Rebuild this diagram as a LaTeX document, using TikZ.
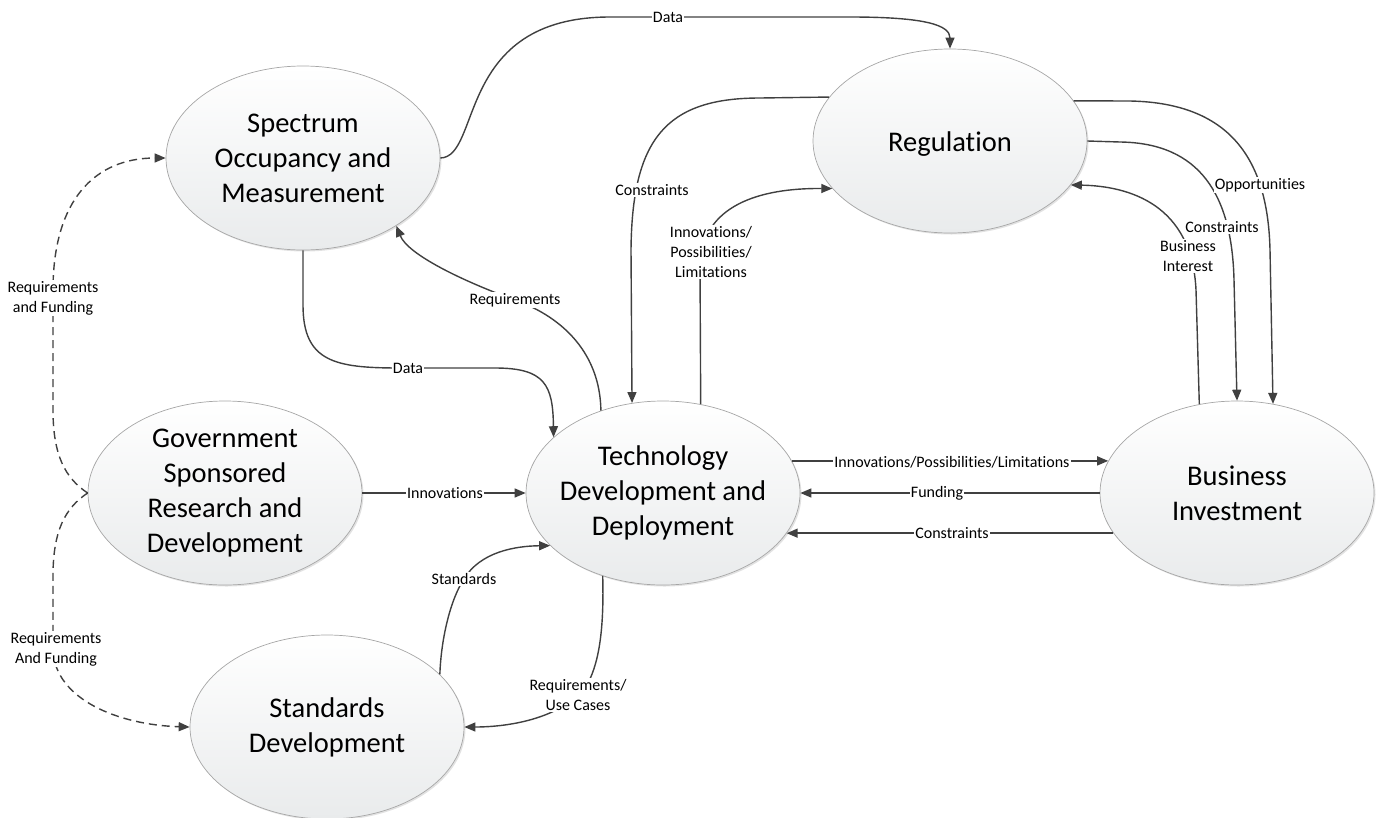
\documentclass[tikz,border=0pt]{standalone}
\usepackage{fontspec}
\setmainfont{Carlito}[Ligatures=NoCommon]
\usetikzlibrary{arrows.meta,shapes.geometric,shadows}
\definecolor{linec}{HTML}{404040}
\definecolor{ellborder}{HTML}{A6A6A6}
\definecolor{ellbot}{HTML}{E9EBEC}
\begin{document}
\begin{tikzpicture}[x=1pt,y=-1pt,
  ell/.style={ellipse, draw=ellborder, line width=0.7pt, top color=white, bottom color=ellbot,
    minimum width=274pt, minimum height=184pt, inner sep=0pt,
    drop shadow={shadow xshift=1.5pt, shadow yshift=-1.5pt, opacity=0.25, fill=black!45}},
  txt/.style={align=center, font=\fontsize{28.5}{35}\selectfont, text=black, inner sep=0pt},
  lbl/.style={fill=white, inner sep=1pt, align=center, font=\fontsize{16}{20}\selectfont, text=black},
  conn/.style={draw=linec, line width=1.4pt, -{Triangle[length=11pt,width=9pt]}},
  dconn/.style={conn, dash pattern=on 8pt off 5pt}]
\useasboundingbox (0,0) rectangle (1380,817);

% ellipses
\node[ell, label={[txt]center:Spectrum\\Occupancy and\\Measurement}] (S) at (303,158) {};
\node[ell, label={[txt,yshift=-3pt]center:Regulation}] (R) at (950,141) {};
\node[ell, label={[txt]center:Government\\Sponsored\\Research and\\Development}] (G) at (225,493) {};
\node[ell, label={[txt]center:Technology\\Development and\\Deployment}] (T) at (663,493) {};
\node[ell, label={[txt]center:Business\\Investment}] (B) at (1237,493) {};
\node[ell, label={[txt]center:Standards\\Development}] (SD) at (327,727) {};

% connectors
\draw[conn] (S.east) .. controls (482,157) and (455,17) .. (610,17) -- (850,17) .. controls (925,17) and (950,25) .. (R.north);
\draw[conn] (S.south) -- (303,305) .. controls (303,362) and (335,368) .. (400,368) -- (495,368) .. controls (545,368) and (553,385) .. (T.153);
\draw[conn] (T.127) .. controls (600,355) and (565,318) .. (515,300) .. controls (465,282) and (408,255) .. (S.324);
\draw[conn] (R.160) -- (760,98) .. controls (665,98) and (632,140) .. (631,250) -- (T.109);
\draw[conn] (T.67) -- (700,265) .. controls (702,205) and (760,188) .. (R.202);
\draw[conn] (R.18) -- (1130,101) .. controls (1235,103) and (1268,165) .. (1270,250) -- (B.68);
\draw[conn] (R.east) -- (1120,142) .. controls (1200,143) and (1232,195) .. (1234,280) -- (B.north);
\draw[conn] (B.113) -- (1196,290) .. controls (1192,205) and (1130,186) .. (R.340);
\draw[conn] (T.14) -- (B.166);
\draw[conn] (B.west) -- (T.east);
\draw[conn] (B.198) -- (T.342);
\draw[conn] (G.east) -- (T.west);
\draw[conn] (SD.25) .. controls (441,640) and (450,600) .. (464,579) .. controls (480,552) and (515,546) .. (T.205);
\draw[conn] (T.234) .. controls (604,625) and (600,660) .. (588,683) .. controls (565,718) and (510,727) .. (SD.east);
\draw[dconn] (G.west) .. controls (65,478) and (53,455) .. (53,410) -- (53,290) .. controls (53,200) and (95,158) .. (S.west);
\draw[dconn] (G.west) .. controls (65,508) and (53,531) .. (53,576) -- (53,650) .. controls (55,700) and (120,725) .. (SD.west);

% labels
\node[lbl] (l1) at (668,17) {Data};
\node[lbl] (l2) at (408,368) {Data};
\node[lbl] (l3) at (515,300) {Requirements};
\node[lbl] (l4) at (652,190) {Constraints};
\node[lbl] (l5) at (711,252) {Innovations/\\Possibilities/\\Limitations};
\node[lbl] (l6) at (1260,185) {Opportunities};
\node[lbl] (l7) at (1222,227) {Constraints};
\node[lbl] (l8) at (1188,256) {Business\\Interest};
\node[lbl] (l9) at (952,462) {Innovations/Possibilities/Limitations};
\node[lbl] (l10) at (937,493) {Funding};
\node[lbl] (l11) at (952,533) {Constraints};
\node[lbl] (l12) at (445,493) {Innovations};
\node[lbl] (l13) at (464,579) {Standards};
\node[lbl] (l14) at (578,695) {Requirements/\\Use Cases};
\node[lbl] (l15) at (53,298) {Requirements\\and Funding};
\node[lbl] (l16) at (56,649) {Requirements\\And Funding};
\end{tikzpicture}
\end{document}
